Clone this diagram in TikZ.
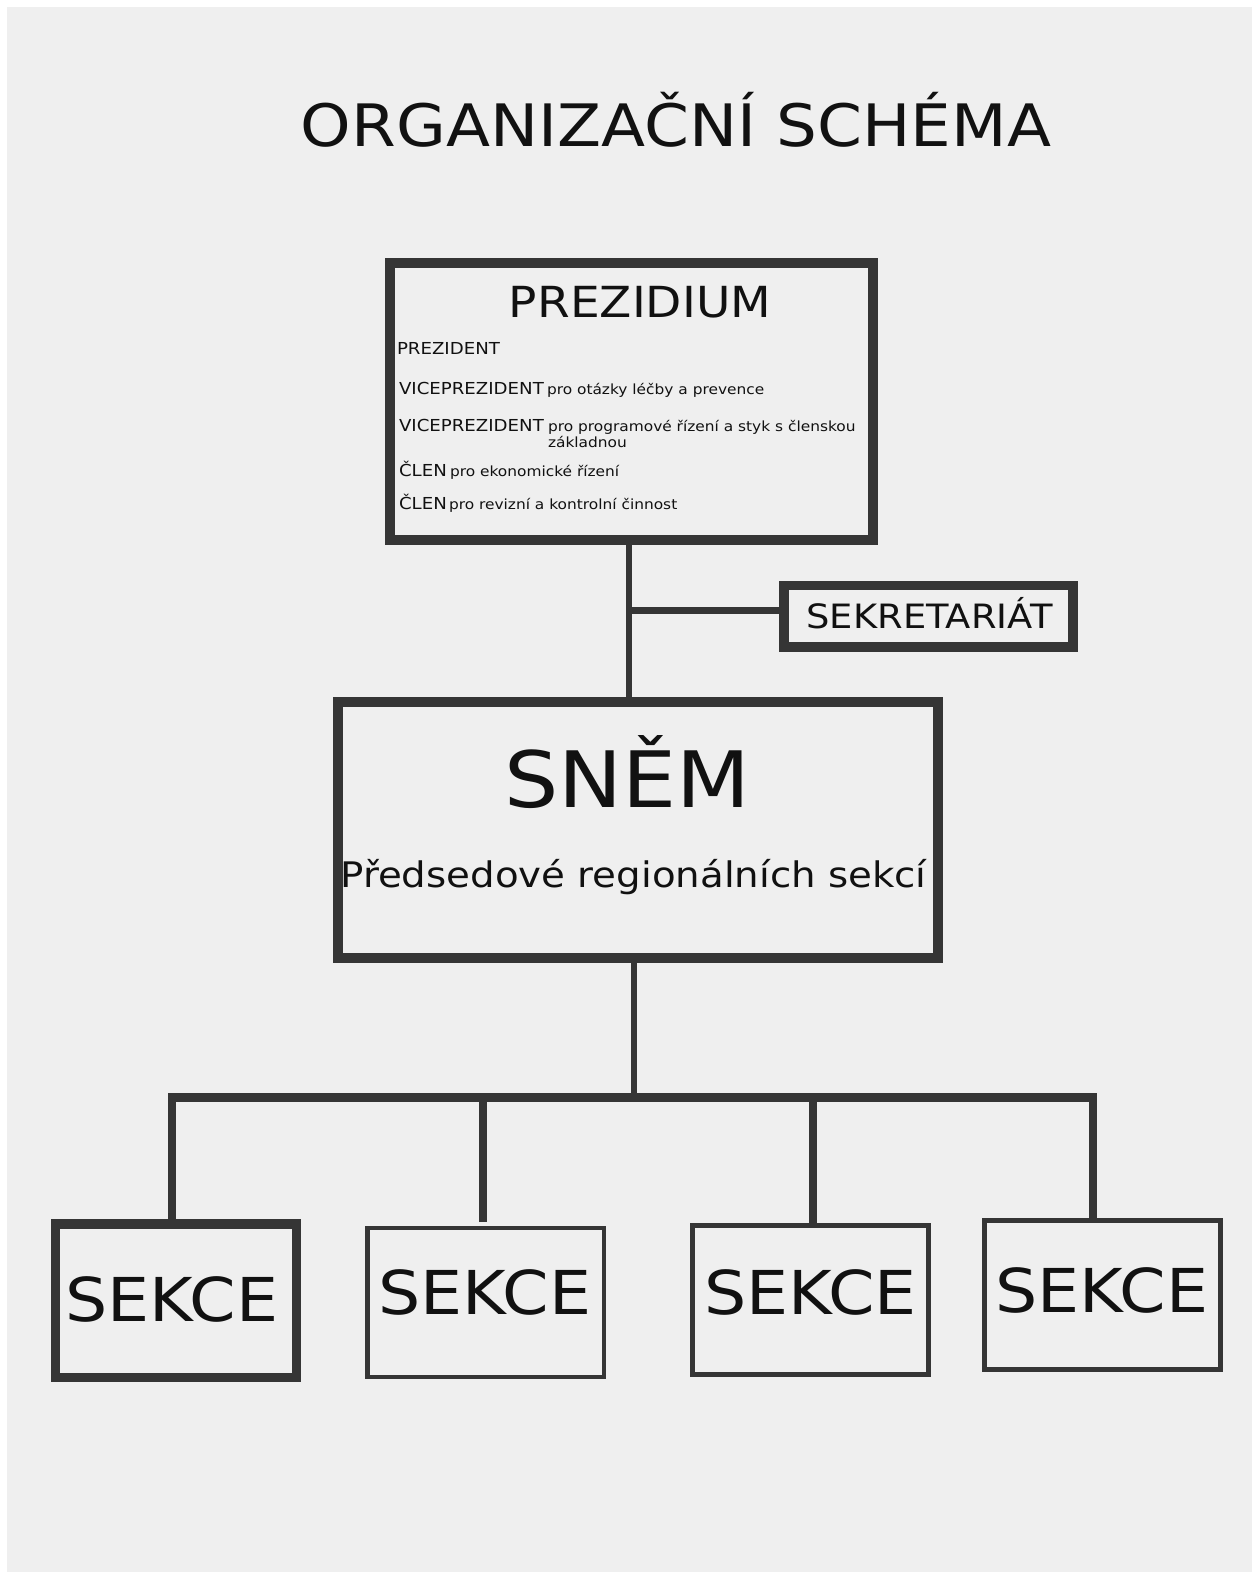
\documentclass[tikz,border=0pt]{standalone}
\usepackage{fontspec}
\setmainfont{DejaVu Sans}[FakeStretch=1.1]
\usetikzlibrary{calc}
\definecolor{bg}{HTML}{EFEFEF}
\definecolor{ln}{HTML}{353535}
\definecolor{tx}{HTML}{111111}
\newcommand{\fs}[1]{\fontsize{#1}{#1}\selectfont}
\tikzset{
  box/.style={draw=ln, inner sep=0pt, outer sep=0pt, rectangle},
  txt/.style={inner sep=0pt, outer sep=0pt, anchor=base, text=tx},
  ltxt/.style={inner sep=0pt, outer sep=0pt, anchor=base west, text=tx},
  conn/.style={draw=ln, line cap=butt, line join=miter}
}
\begin{document}
\begin{tikzpicture}[x=1pt,y=-1pt]
\useasboundingbox (0,0) rectangle (1259,1572);
\fill[white] (0,0) rectangle (1259,1572);
\fill[bg] (7,7) rectangle (1252,1572);

% title
\node[txt] (title) at (676,146) {\fs{58.5}ORGANIZAČNÍ SCHÉMA};

% boxes
\node[box, line width=9.5pt, minimum width=483pt, minimum height=277pt] (prez) at (631.5,401.5) {};
\node[box, line width=9.5pt, minimum width=289pt, minimum height=61.5pt] (sek) at (928.5,616.25) {};
\node[box, line width=10pt, minimum width=600pt, minimum height=256pt] (snem) at (638,830) {};
\node[box, line width=9.5pt, minimum width=241pt, minimum height=153.5pt] (s1) at (176,1300.75) {};
\node[box, line width=4.5pt, minimum width=236.5pt, minimum height=149pt] (s2) at (485.75,1302.5) {};
\node[box, line width=5pt, minimum width=235.5pt, minimum height=149pt] (s3) at (810.25,1300) {};
\node[box, line width=5pt, minimum width=235.5pt, minimum height=149pt] (s4) at (1102.25,1295) {};

% texts in PREZIDIUM
\node[txt] (prezt) at (640,317) {\fs{42.8}PREZIDIUM};
\node[ltxt] (r1a) at (397,354) {\fs{16.5}PREZIDENT};
\node[ltxt] (r2a) at (399,394) {\fs{16.5}VICEPREZIDENT};
\node[ltxt] (r2b) at (547,394) {\fs{14}pro otázky léčby a prevence};
\node[ltxt] (r3a) at (399,431) {\fs{16.5}VICEPREZIDENT};
\node[ltxt] (r3b) at (548,431) {\fs{14}pro programové řízení a styk s členskou};
\node[ltxt] (r3c) at (548,447) {\fs{14}základnou};
\node[ltxt] (r4a) at (399,476) {\fs{16.5}ČLEN};
\node[ltxt] (r4b) at (450,476) {\fs{14}pro ekonomické řízení};
\node[ltxt] (r5a) at (399,509) {\fs{16.5}ČLEN};
\node[ltxt] (r5b) at (449,509) {\fs{14}pro revizní a kontrolní činnost};

% other texts
\node[txt] (sekt) at (929.5,628) {\fs{33.5}SEKRETARIÁT};
\node[txt] (snemt) at (627.5,807) {\fs{77.8}SNĚM};
\node[txt] (snems) at (633.5,887) {\fs{35.2}Předsedové regionálních sekcí};
\node[txt] (s1t) at (172,1321) {\fs{60.5}SEKCE};
\node[txt] (s2t) at (485,1314) {\fs{60.5}SEKCE};
\node[txt] (s3t) at (810.5,1314) {\fs{60.5}SEKCE};
\node[txt] (s4t) at (1102,1312) {\fs{60.5}SEKCE};

% connectors
\coordinate (j1) at (629,610.5);
\draw[conn, line width=6pt] (prez.south -| j1) -- (snem.north -| j1);
\draw[conn, line width=7pt] (j1) -- (sek.west |- j1);
\coordinate (bl) at (172,1097.5);
\coordinate (br) at (1093,1097.5);
\coordinate (jm) at (634,1097.5);
\coordinate (v2) at (482.5,1097.5);
\coordinate (v3) at (813,1097.5);
\draw[conn, line width=5.5pt] (snem.south -| jm) -- (jm);
\draw[conn, line width=8.5pt] (s1.north -| bl) -- (bl) -- (br) -- (s4.north -| br);
\draw[conn, line width=8pt] (v2) -- ($(v2 |- s2.north)+(0,-6)$);
\draw[conn, line width=8pt] (v3) -- ($(v3 |- s3.north)+(0,-3)$);
\end{tikzpicture}
\end{document}
